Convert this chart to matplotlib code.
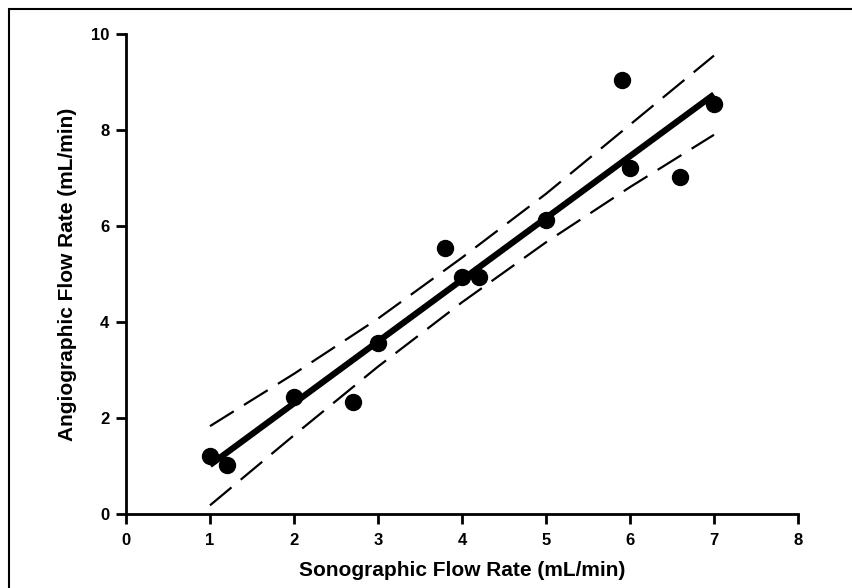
import matplotlib
matplotlib.use("Agg")
import matplotlib.pyplot as plt
from matplotlib.patches import Rectangle

plt.rcParams['font.family'] = ['Liberation Sans', 'DejaVu Sans']

# scatter points
sono = [1.0, 1.2, 2.0, 2.7, 3.0, 3.8, 4.0, 4.2, 5.0, 5.9, 6.0, 6.6, 7.0]
angio = [1.21, 1.02, 2.44, 2.33, 3.56, 5.54, 4.93, 4.93, 6.12, 9.04, 7.21, 7.03, 8.54]

# regression line end points
fit_x = [1.0, 7.0]
fit_y = [1.02, 8.74]

# confidence band
band_x = [1, 2, 3, 4, 5, 6, 7]
band_hi = [1.83, 2.92, 4.07, 5.34, 6.67, 8.11, 9.55]
band_lo = [0.18, 1.64, 3.07, 4.41, 5.66, 6.81, 7.9]

xticks = [0, 1, 2, 3, 4, 5, 6, 7, 8]
yticks = [0, 2, 4, 6, 8, 10]

fig = plt.figure(figsize=(8.53, 5.88), dpi=100)
ax = fig.add_axes([0.1477, 0.1259, 0.7878, 0.8163])

ax.plot(band_x, band_hi, color='black', lw=1.6, ls=(0, (12.6, 5.4)))
ax.plot(band_x, band_lo, color='black', lw=1.6, ls=(0, (12.6, 5.4)))
ax.plot(fit_x, fit_y, color='black', lw=4.5, solid_capstyle='butt')
ax.plot(sono, angio, 'o', color='black', ms=11.5, zorder=5)

ax.set_xlim(0, 8)
ax.set_ylim(0, 10)
ax.set_xticks(xticks)
ax.set_yticks(yticks)
for s in ['top', 'right']:
    ax.spines[s].set_visible(False)
for s in ['left', 'bottom']:
    ax.spines[s].set_linewidth(2)
ax.tick_params(direction='out', length=7, width=2, labelsize=12)
ax.tick_params(axis='x', pad=7)
ax.tick_params(axis='y', pad=5)
for lab in ax.get_xticklabels() + ax.get_yticklabels():
    lab.set_fontweight('bold')

ax.set_xlabel('Sonographic Flow Rate (mL/min)', fontsize=15, fontweight='bold', labelpad=9)
ax.set_ylabel('Angiographic Flow Rate (mL/min)', fontsize=15, fontweight='bold', labelpad=10)

# frame around the picture (only left/top visible)
fig.add_artist(Rectangle((8.5 / 853, -0.5), 2, 1.5 - 8.5 / 588, fill=False,
                         lw=1.5, edgecolor='black', transform=fig.transFigure))

fig.savefig('out.png', dpi=100)
